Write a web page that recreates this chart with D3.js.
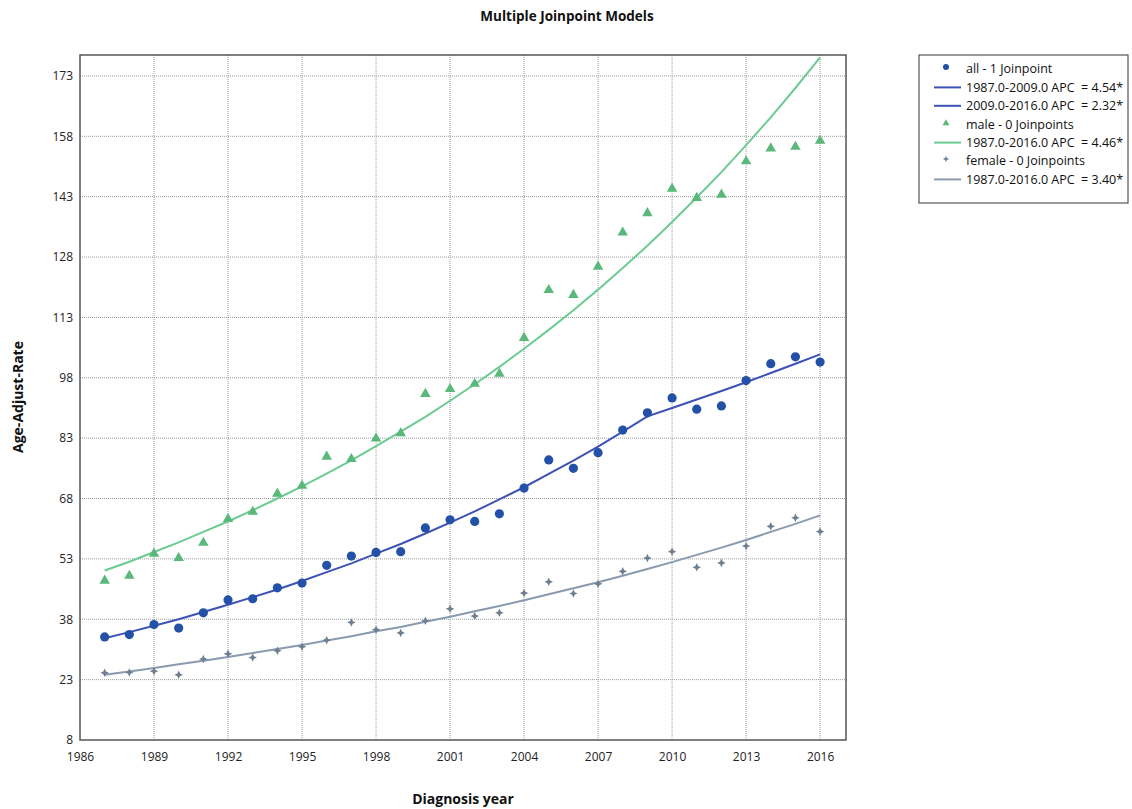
<!DOCTYPE html>
<html><head><meta charset="utf-8">
<script src="https://cdn.jsdelivr.net/npm/d3@7"></script>
<style>
body{margin:0;background:#fff;}
text{font-family:"Open Sans","Noto Sans",sans-serif;}
</style></head>
<body><svg id="chart" width="1132" height="809"></svg>
<script>
const years = d3.range(1987, 2017);
const xTicks = [1986,1989,1992,1995,1998,2001,2004,2007,2010,2013,2016];
const yTicks = [8,23,38,53,68,83,98,113,128,143,158,173];

const allObs = [33.6,34.2,36.7,35.8,39.6,42.8,43.1,45.8,47.0,51.4,53.7,54.6,54.8,60.7,62.7,62.3,64.2,70.6,77.6,75.5,79.4,85.0,89.3,93.0,90.2,91.0,97.3,101.5,103.2,101.9];
const maleObs = [47.6,48.8,54.3,53.2,57.0,62.9,64.7,69.2,71.2,78.4,77.8,82.9,84.2,94.0,95.2,96.5,99.0,107.9,119.8,118.6,125.6,134.1,138.9,145.0,142.7,143.5,151.8,155.0,155.4,156.9];
const femaleObs = [24.7,24.8,25.1,24.2,28.1,29.4,28.5,30.2,31.2,32.8,37.2,35.4,34.6,37.6,40.6,38.8,39.6,44.5,47.3,44.4,46.8,49.9,53.2,54.8,50.9,52.0,56.2,61.1,63.2,59.8];

const allFit = [33.3,34.8,36.4,38.0,39.8,41.6,43.5,45.4,47.5,49.7,51.9,54.3,56.7,59.3,62.0,64.8,67.8,70.8,74.1,77.4,80.9,84.6,88.4,90.5,92.6,94.7,96.9,99.2,101.5,103.8];
const maleFit = [50.1,52.3,54.7,57.1,59.7,62.3,65.1,68.0,71.0,74.2,77.5,81.0,84.6,88.3,92.3,96.4,100.7,105.2,109.9,114.8,119.9,125.3,130.8,136.7,142.8,149.1,155.8,162.7,170.0,177.6];
const femaleFit = [24.2,25.0,25.9,26.8,27.7,28.6,29.6,30.6,31.6,32.7,33.8,35.0,36.1,37.4,38.6,40.0,41.3,42.7,44.2,45.7,47.2,48.8,50.5,52.2,54.0,55.8,57.7,59.7,61.7,63.8];

const legendLabels = ["all - 1 Joinpoint","1987.0-2009.0 APC  = 4.54*","2009.0-2016.0 APC  = 2.32*","male - 0 Joinpoints","1987.0-2016.0 APC  = 4.46*","female - 0 Joinpoints","1987.0-2016.0 APC  = 3.40*"];

const C = {allM:"#2451a8", allL:"#3c52b6", maleM:"#5ab97a", maleL:"#6ccb93", femM:"#6e7f92", femL:"#8a9aae"};

const svg = d3.select("#chart");
const L=80, R=846, T=55, B=740;
const x = d3.scaleLinear().domain([1986, 2017.05]).range([L, R]);
const y = d3.scaleLinear().domain([8, 178.2]).range([B, T]);

// grid
const g = svg.append("g");
g.selectAll(".vg").data(xTicks.filter(d=>d>1986)).enter().append("line")
  .attr("x1",d=>x(d)).attr("x2",d=>x(d)).attr("y1",T).attr("y2",B)
  .attr("stroke","#9a9a9a").attr("stroke-width",1).attr("stroke-dasharray","1,1");
g.selectAll(".hg").data(yTicks.filter(d=>d>8)).enter().append("line")
  .attr("x1",L).attr("x2",R).attr("y1",d=>y(d)).attr("y2",d=>y(d))
  .attr("stroke","#9a9a9a").attr("stroke-width",1).attr("stroke-dasharray","1,1");

// axes
const ya = svg.append("g").attr("transform",`translate(${L},0)`)
  .call(d3.axisLeft(y).tickValues(yTicks).tickSize(0).tickPadding(7).tickFormat(d3.format("d")));
ya.select(".domain").remove();
ya.selectAll("text").attr("font-size",12).attr("fill","#222").style("font-family","'Open Sans',sans-serif");
const xa = svg.append("g").attr("transform",`translate(0,${B})`)
  .call(d3.axisBottom(x).tickValues(xTicks).tickSize(0).tickPadding(12).tickFormat(d3.format("d")));
xa.select(".domain").remove();
xa.selectAll("text").attr("font-size",12).attr("fill","#222").style("font-family","'Open Sans',sans-serif");

// lines
const line = (arr)=>d3.line().x((d,i)=>x(years[i])).y(d=>y(d))(arr);
svg.append("path").attr("d",line(femaleFit)).attr("fill","none").attr("stroke",C.femL).attr("stroke-width",2);
svg.append("path").attr("d",line(allFit)).attr("fill","none").attr("stroke",C.allL).attr("stroke-width",2);
svg.append("path").attr("d",line(maleFit)).attr("fill","none").attr("stroke",C.maleL).attr("stroke-width",2);

// star symbol (4-point)
const star4 = {draw(ctx,size){const r=Math.sqrt(size)/1.2, w=r*0.32;
  ctx.moveTo(0,-r);ctx.lineTo(w,-w);ctx.lineTo(r,0);ctx.lineTo(w,w);ctx.lineTo(0,r);ctx.lineTo(-w,w);ctx.lineTo(-r,0);ctx.lineTo(-w,-w);ctx.closePath();}};

svg.append("g").selectAll("path").data(femaleObs).enter().append("path")
  .attr("transform",(d,i)=>`translate(${x(years[i])},${y(d)})`)
  .attr("d",d3.symbol(star4,26)()).attr("fill",C.femM);
svg.append("g").selectAll("circle").data(allObs).enter().append("circle")
  .attr("cx",(d,i)=>x(years[i])).attr("cy",d=>y(d)).attr("r",4.6).attr("fill",C.allM);
svg.append("g").selectAll("path").data(maleObs).enter().append("path")
  .attr("transform",(d,i)=>`translate(${x(years[i])},${y(d)})`)
  .attr("d",d3.symbol(d3.symbolTriangle,48)()).attr("fill",C.maleM);

// frame
svg.append("rect").attr("x",L).attr("y",T).attr("width",R-L).attr("height",B-T)
  .attr("fill","none").attr("stroke","#555").attr("stroke-width",1.5);

// title & axis labels
svg.append("text").attr("x",567).attr("y",21).attr("text-anchor","middle")
  .attr("font-size",13.5).attr("font-weight","bold").attr("fill","#111").text("Multiple Joinpoint Models");
svg.append("text").attr("x",463).attr("y",804).attr("text-anchor","middle")
  .attr("font-size",14).attr("font-weight","bold").attr("fill","#111").text("Diagnosis year");
svg.append("text").attr("transform","translate(23,397) rotate(-90)").attr("text-anchor","middle")
  .attr("font-size",14).attr("font-weight","bold").attr("fill","#111").text("Age-Adjust-Rate");

// legend
const lg = svg.append("g");
lg.append("rect").attr("x",919).attr("y",55).attr("width",209).attr("height",148)
  .attr("fill","#fff").attr("stroke","#555").attr("stroke-width",1.2);
const kinds = ["circle","line","line","tri","line","star","line"];
const kcol = [C.allM,C.allL,C.allL,C.maleM,C.maleL,C.femM,C.femL];
legendLabels.forEach((t,i)=>{
  const yy = 69 + i*18.4;
  if(kinds[i]==="line"){
    lg.append("line").attr("x1",934).attr("x2",961).attr("y1",yy).attr("y2",yy).attr("stroke",kcol[i]).attr("stroke-width",2);
  } else if(kinds[i]==="circle"){
    lg.append("circle").attr("cx",946).attr("cy",yy-2).attr("r",3).attr("fill",kcol[i]);
  } else if(kinds[i]==="tri"){
    lg.append("path").attr("transform",`translate(946,${yy-1})`).attr("d",d3.symbol(d3.symbolTriangle,20)()).attr("fill",kcol[i]);
  } else {
    lg.append("path").attr("transform",`translate(946,${yy-2})`).attr("d",d3.symbol(star4,14)()).attr("fill",kcol[i]);
  }
  lg.append("text").attr("x",966).attr("y",yy).attr("dy","0.35em").attr("font-size",12.5).attr("fill","#111")
    .style("white-space","pre").text(t);
});
</script></body></html>
